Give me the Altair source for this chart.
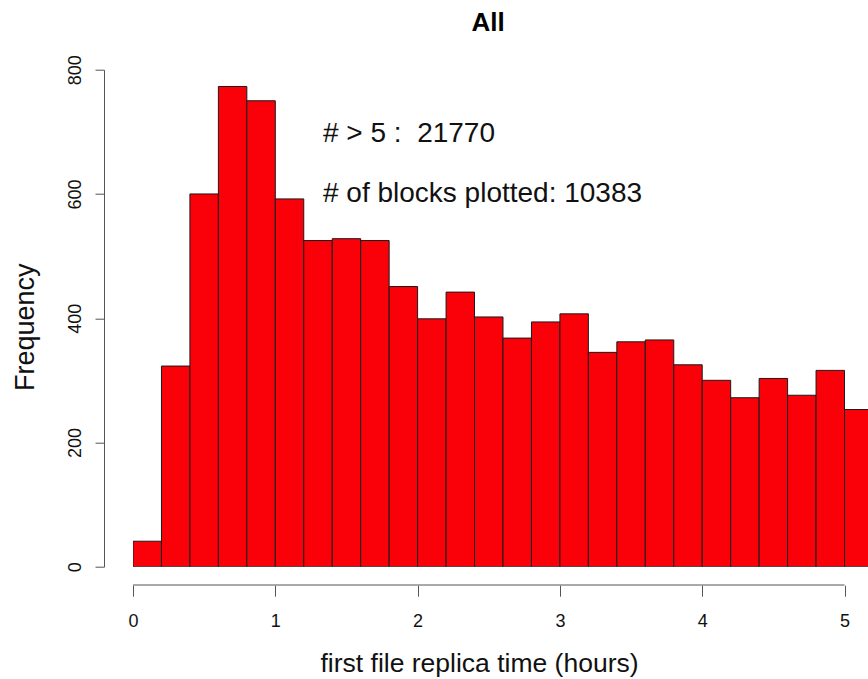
import altair as alt
import pandas as pd

# Histogram bins (hours) and counts
bin_start = [0.0, 0.2, 0.4, 0.6, 0.8, 1.0, 1.2, 1.4, 1.6, 1.8, 2.0, 2.2, 2.4,
             2.6, 2.8, 3.0, 3.2, 3.4, 3.6, 3.8, 4.0, 4.2, 4.4, 4.6, 4.8, 5.0]
bin_end = [0.2, 0.4, 0.6, 0.8, 1.0, 1.2, 1.4, 1.6, 1.8, 2.0, 2.2, 2.4, 2.6,
           2.8, 3.0, 3.2, 3.4, 3.6, 3.8, 4.0, 4.2, 4.4, 4.6, 4.8, 5.0, 5.2]
counts = [41, 323, 600, 773, 750, 592, 525, 528, 525, 451, 399, 442, 402,
          368, 394, 407, 345, 362, 365, 325, 300, 272, 303, 276, 316, 253]

x_ticks = [0, 1, 2, 3, 4, 5]
y_ticks = [0, 200, 400, 600, 800]
axis_span = [0, 5]

notes = ["# > 5 :\u00a0 21770", "# of blocks plotted: 10383"]
note_y = [684, 587]
note_x = 1.335

FONT = "Liberation Sans"

df = pd.DataFrame({"start": bin_start, "end": bin_end, "count": counts})
notes_df = pd.DataFrame({"label": notes, "y": note_y, "x": [note_x] * len(notes)})
axis_df = pd.DataFrame({"x": [axis_span[0]], "x2": [axis_span[1]]})

x_scale = alt.Scale(domain=[0, 5.165], nice=False, zero=False)
y_scale = alt.Scale(domain=[0, 800], nice=False)

bars = alt.Chart(df).mark_rect(
    color="#fa0008", stroke="#1a1a1a", strokeWidth=1, clip=True
).encode(
    x=alt.X("start:Q", scale=x_scale,
            axis=alt.Axis(values=x_ticks, title="first file replica time (hours)",
                          domain=False, grid=False, offset=18.5, tickSize=11,
                          tickColor="#555", tickWidth=1,
                          labelFont=FONT, labelFontSize=18, labelColor="#111",
                          labelBaseline="alphabetic", labelPadding=30,
                          labelFlush=False, format="d",
                          titleFont=FONT, titleFontSize=26.5, titleFontWeight="normal",
                          titleColor="#111", titleBaseline="alphabetic",
                          titleAlign="center", titleX=346, titleY=86)),
    x2="end:Q",
    y=alt.Y("count:Q", scale=y_scale,
            axis=alt.Axis(values=y_ticks, title="Frequency", grid=False,
                          offset=29, tickSize=9, domainColor="#555",
                          tickColor="#555", domainWidth=1, tickWidth=1,
                          labelFont=FONT, labelFontSize=18, labelColor="#111",
                          labelAngle=-90, labelAlign="center",
                          labelBaseline="alphabetic", labelPadding=15,
                          labelFlush=False, format="d",
                          titleFont=FONT, titleFontSize=27, titleFontWeight="normal",
                          titleColor="#111", titleAngle=-90,
                          titleBaseline="alphabetic", titleAlign="center",
                          titleX=-71, titleY=257)),
    y2=alt.datum(0),
)

x_axis_line = alt.Chart(axis_df).mark_rule(color="#555", strokeWidth=1).encode(
    x=alt.X("x:Q", scale=x_scale),
    x2="x2:Q",
    y=alt.value(515.3),
)

texts = alt.Chart(notes_df).mark_text(
    align="left", baseline="alphabetic", font=FONT, fontSize=28, color="#111"
).encode(
    x=alt.X("x:Q", scale=x_scale),
    y=alt.Y("y:Q", scale=y_scale),
    text="label:N",
)

chart = alt.layer(bars, x_axis_line, texts).properties(
    width=735,
    height=497,
    background="white",
    title=alt.TitleParams("All", font=FONT, fontSize=26, fontWeight="bold",
                          color="#000", anchor="middle", frame="group",
                          baseline="alphabetic", offset=-2, dx=-12.5),
    autosize=alt.AutoSizeParams(type="none"),
    padding={"left": 133, "top": 69.7, "right": 0, "bottom": 112.3},
).configure_view(strokeWidth=0, stroke="transparent").configure_axis(grid=False)

chart.save("out.html", embed_options={"renderer": "svg", "actions": False})
